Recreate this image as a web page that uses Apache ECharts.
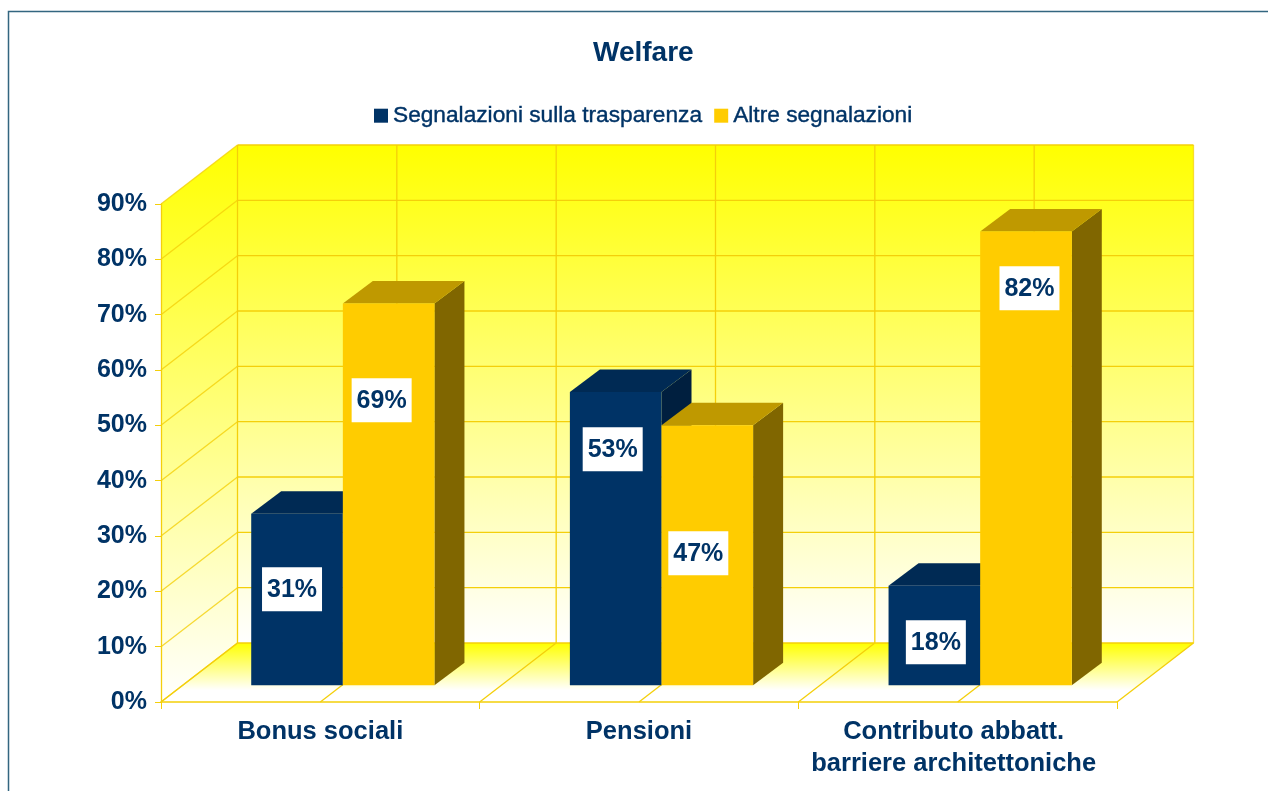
<!DOCTYPE html>
<html>
<head>
<meta charset="utf-8">
<style>html,body{margin:0;padding:0;background:#fff}#c{width:1268px;height:791px}</style>
<script src="https://cdn.jsdelivr.net/npm/echarts@6/dist/echarts.min.js"></script>
</head>
<body>
<div id="c"></div>
<script>
const categories = ['Bonus sociali', 'Pensioni', 'Contributo abbatt.\nbarriere architettoniche'];
const seriesNames = ['Segnalazioni sulla trasparenza', 'Altre segnalazioni'];
const trasparenza = [31, 53, 18];
const altre = [69, 47, 82];
const chartTitle = 'Welfare';

const NAVY = '#003366', GOLD = '#ffcc00', GRID = '#f4cf0a';
const FONT = '"Liberation Sans", Arial, sans-serif';
// Perspective layout (px), independent from the data
const WALL = {dx: 76.5, dy: -59};
const BAR = {widthRatio: 0.2875, baseDx: 22.5, baseDy: -16.7, dx: 30, dy: -22.5};
const labelShift = [
  [[-5, -96], [-3, -236], [1.5, -43]],
  [[-7, -285], [-9, -132], [3.5, -397]]
];

function backdrop(params, api) {
  const band = api.size([1, 0])[0];
  const p0 = api.coord([0, 0]), pTop = api.coord([0, 90]);
  const left = p0[0] - band / 2, bottom = p0[1], top = pTop[1];
  const right = left + band * categories.length;
  const d = WALL;
  const vGrad = (c) => new echarts.graphic.LinearGradient(0, 0, 0, 1, [{offset: 0, color: c}, {offset: 1, color: '#ffffff'}]);
  const kids = [];
  const line = (x1, y1, x2, y2, op) => kids.push({type: 'line', shape: {x1, y1, x2, y2}, style: {stroke: GRID, lineWidth: 1.3, opacity: op || 1}, silent: true});
  kids.push({type: 'polygon', shape: {points: [[left + d.dx, top + d.dy], [right + d.dx, top + d.dy], [right + d.dx, bottom + d.dy], [left + d.dx, bottom + d.dy]]}, style: {fill: vGrad('#ffff00')}});
  kids.push({type: 'polygon', shape: {points: [[left, top], [left + d.dx, top + d.dy], [left + d.dx, bottom + d.dy], [left, bottom]]}, style: {fill: vGrad('#ffff00')}});
  kids.push({type: 'polygon', shape: {points: [[left, bottom], [right, bottom], [right + d.dx, bottom + d.dy], [left + d.dx, bottom + d.dy]]},
    style: {fill: new echarts.graphic.LinearGradient(0, 1, 0, 0, [{offset: 0, color: '#ffffff'}, {offset: 0.2, color: '#ffffff'}, {offset: 1, color: '#ffff00'}])}});
  for (let v = 0; v <= 90; v += 10) {
    const y = api.coord([0, v])[1];
    line(left + d.dx, y + d.dy, right + d.dx, y + d.dy);
    line(left, y, left + d.dx, y + d.dy, 0.8);
  }
  for (let i = 0; i <= categories.length * 2; i++) {
    const x = left + i * band / 2;
    line(x + d.dx, top + d.dy, x + d.dx, bottom + d.dy, i === categories.length * 2 ? 0.7 : 1);
    line(x, bottom, x + d.dx, bottom + d.dy);
  }
  return {type: 'group', children: kids};
}

function barRenderer(seriesIndex, front, topC, side) {
  return function (params, api) {
    const i = api.value(0), v = api.value(1);
    const band = api.size([1, 0])[0];
    const w = band * BAR.widthRatio;
    const c = api.coord([i, 0]), t = api.coord([i, v]);
    const cx = c[0] + BAR.baseDx;
    const x0 = seriesIndex === 0 ? cx - w : cx, x1 = x0 + w;
    const yb = c[1] + BAR.baseDy, yt = t[1] + BAR.baseDy;
    const s = labelShift[seriesIndex][i];
    const lx = (x0 + x1) / 2 + s[0], ly = yb + s[1];
    return {type: 'group', children: [
      {type: 'polygon', shape: {points: [[x1, yb], [x1 + BAR.dx, yb + BAR.dy], [x1 + BAR.dx, yt + BAR.dy], [x1, yt]]}, style: {fill: side}},
      {type: 'polygon', shape: {points: [[x0, yt], [x1, yt], [x1 + BAR.dx, yt + BAR.dy], [x0 + BAR.dx, yt + BAR.dy]]}, style: {fill: topC}},
      {type: 'rect', shape: {x: x0, y: yt, width: w, height: yb - yt}, style: {fill: front}},
      {type: 'rect', shape: {x: lx - 30, y: ly - 22, width: 60, height: 44}, style: {fill: '#ffffff'}},
      {type: 'text', style: {x: lx, y: ly + 1, text: v + '%', align: 'center', verticalAlign: 'middle', fill: NAVY, font: 'bold 25px ' + FONT}}
    ]};
  };
}

const chart = echarts.init(document.getElementById('c'), null, {renderer: 'canvas'});
chart.setOption({
  animation: false,
  backgroundColor: '#ffffff',
  title: {text: chartTitle, left: 593, top: 39, padding: 0, textStyle: {color: NAVY, fontFamily: FONT, fontWeight: 'bold', fontSize: 28}},
  legend: {
    data: seriesNames, left: 374, top: 104, padding: 0, itemWidth: 14, itemHeight: 14, itemGap: 12,
    icon: 'rect',
    textStyle: {color: NAVY, fontFamily: FONT, fontSize: 22.7, textBorderColor: NAVY, textBorderWidth: 0.4},
    selectedMode: false
  },
  grid: {left: 161, top: 204, width: 956, height: 498, containLabel: false},
  xAxis: {
    type: 'category', data: categories, z: 2,
    axisLine: {lineStyle: {color: GRID, width: 1.5}},
    axisTick: {show: true, length: 7, lineStyle: {color: GRID}},
    axisLabel: {
      color: NAVY, fontFamily: FONT, fontWeight: 'bold', fontSize: 25.5, lineHeight: 32, margin: 14, interval: 0,
      formatter: (v, i) => i === 2 ? v.split('\n').map(l => '{w|' + l + '}').join('\n') : v,
      rich: {w: {color: NAVY, fontFamily: FONT, fontWeight: 'bold', fontSize: 25.5, lineHeight: 32, padding: [0, 8, 0, 0]}}
    },
    splitLine: {show: false}
  },
  yAxis: {
    type: 'value', min: 0, max: 90, interval: 10, z: 2,
    axisLine: {show: true, lineStyle: {color: GRID, width: 1.3}},
    axisTick: {show: true, length: 6, lineStyle: {color: GRID}},
    axisLabel: {formatter: '{value}%', color: NAVY, fontFamily: FONT, fontWeight: 'bold', fontSize: 25, margin: 14},
    splitLine: {show: false}
  },
  graphic: [{type: 'rect', z: 100, silent: true, shape: {x: 8.5, y: 11.5, width: 1400, height: 1000}, style: {fill: 'none', stroke: '#336680', lineWidth: 1.5}}],
  series: [
    {type: 'custom', name: 'sfondo', z: 1, silent: true, clip: false, data: [[0, 0]], renderItem: backdrop, encode: {x: 0, y: 1}},
    {type: 'custom', name: seriesNames[0], z: 3, clip: false, itemStyle: {color: NAVY}, encode: {x: 0, y: 1},
      data: trasparenza.map((v, i) => [i, v]), renderItem: barRenderer(0, NAVY, '#002a54', '#001f3f')},
    {type: 'custom', name: seriesNames[1], z: 4, clip: false, itemStyle: {color: GOLD}, encode: {x: 0, y: 1},
      data: altre.map((v, i) => [i, v]), renderItem: barRenderer(1, GOLD, '#bf9900', '#806600')}
  ]
});
</script>
</body>
</html>
